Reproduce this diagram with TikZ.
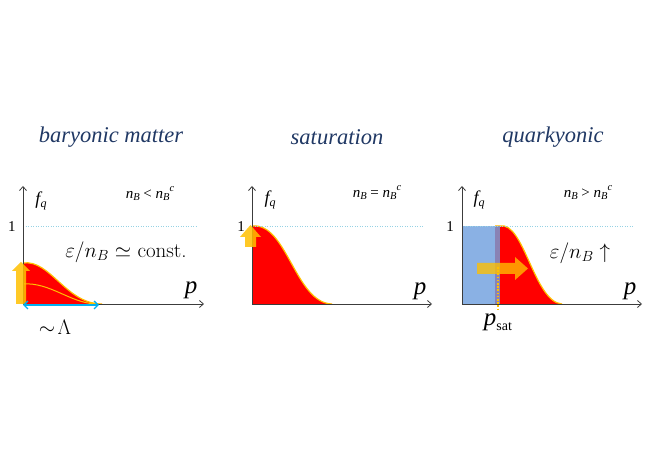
\RequirePackage{fix-cm}
\documentclass[tikz,border=0pt]{standalone}
\usepackage{fontspec}
\newfontfamily\tnr{Liberation Serif}[ItalicFont={Liberation Serif Italic}]
\usetikzlibrary{arrows.meta}
\definecolor{navy}{RGB}{32,56,100}
\definecolor{amber}{RGB}{255,192,0}
\definecolor{fillred}{RGB}{255,0,0}
\definecolor{skyline}{RGB}{150,210,228}
\definecolor{cyanarr}{RGB}{0,176,240}
\definecolor{boxblue}{RGB}{112,160,222}
\definecolor{axisgray}{RGB}{60,60,60}
\tikzset{
  title/.style={font=\tnr\itshape\fontsize{22.5}{26}\selectfont, text=navy, inner sep=0pt},
  axis/.style={draw=axisgray, line width=0.8pt, -{Straight Barb[length=4pt,width=7pt]}},
  oneline/.style={draw=skyline, line width=0.5pt, dotted},
  dist/.style={fill=fillred},
  distedge/.style={draw=amber, line width=1.2pt},
  bigarrow/.style={fill=amber, fill opacity=0.85, draw=none},
  fqlabel/.style={font=\tnr\itshape\fontsize{18}{20}\selectfont, inner sep=0pt},
  plabel/.style={font=\tnr\itshape\fontsize{25}{27}\selectfont, inner sep=0pt},
  onelabel/.style={font=\tnr\fontsize{15}{17}\selectfont, inner sep=0pt},
  nlabel/.style={font=\tnr\itshape\fontsize{15}{17}\selectfont, inner sep=0pt},
  cmlabel/.style={font=\fontsize{21}{24}\selectfont, inner sep=0pt},
}
\newcommand{\fqtext}{f\raisebox{-0.35ex}{\fontsize{12}{14}\selectfont q}}
\newcommand{\nbtext}{n\raisebox{-0.4ex}{\fontsize{10.5}{12}\selectfont B}}
\newcommand{\nbctext}{n\raisebox{-0.4ex}{\fontsize{10.5}{12}\selectfont B}\raisebox{0.9ex}{\fontsize{10.5}{12}\selectfont c}}
\begin{document}
\begin{tikzpicture}[x=1pt,y=-1pt]
\useasboundingbox (0,0) rectangle (654,462);

% ---------- titles ----------
\node[title] (t1) at (111,137) {baryonic matter};
\node[title] (t2) at (337,137) {saturation};
\node[title] (t3) at (553,137) {quarkyonic};

% ================= panel 1 =================
\coordinate (o1) at (23,304);
\coordinate (y1) at (23,186);
\coordinate (x1) at (204,304);
\fill[dist] (23,304) -- (23,263) .. controls (50,259) and (66,304) .. (102,304) -- cycle;
\draw[distedge] (23,263) .. controls (50,259) and (66,304) .. (102,304);
\draw[draw=amber, line width=1pt] (23,284) .. controls (50,282) and (70,303) .. (96,304);
\draw[oneline] (23,226) -- (196,226);
\draw[axis] (o1) -- (y1);
\draw[axis] (o1) -- (x1);
\fill[bigarrow] (16,304) -- (16,271) -- (12,271) -- (21,262) -- (30,271) -- (26,271) -- (26,304) -- cycle;
\coordinate (la) at (23,305);
\coordinate (lb) at (99,305);
\draw[cyanarr, line width=1.4pt, {Straight Barb[length=4pt,width=8pt]}-{Straight Barb[length=4pt,width=8pt]}] (la) -- (lb);
\node[fqlabel] (fq1) at (41,201) {\fqtext};
\node[onelabel] (one1) at (12,227) {1};
\node[nlabel] (nb1) at (150,194) {\nbtext\ {\upshape<} \nbctext};
\node[cmlabel] (e1) at (126,252) {$\varepsilon/n_B\simeq$ const.};
\node[plabel] (p1) at (191,290) {p};
\node[cmlabel] (lam) at (55,327) {$\sim\!\Lambda$};

% ================= panel 2 =================
\coordinate (o2) at (252,304);
\coordinate (y2) at (252,186);
\coordinate (x2) at (432,304);
\fill[dist] (252,304) -- (252,226) .. controls (287,222) and (295,303) .. (332,304) -- cycle;
\draw[distedge] (252,226) .. controls (287,222) and (295,303) .. (332,304);
\draw[oneline] (252,226) -- (424,226);
\draw[axis] (o2) -- (y2);
\draw[axis] (o2) -- (x2);
\fill[bigarrow] (245,247) -- (245,237) -- (240,237) -- (250.5,225) -- (261,237) -- (256,237) -- (256,247) -- cycle;
\node[fqlabel] (fq2) at (270,200) {\fqtext};
\node[onelabel] (one2) at (241,227) {1};
\node[nlabel] (nb2) at (377,193) {\nbtext\ {\upshape=} \nbctext};
\node[plabel] (p2) at (420,291) {p};

% ================= panel 3 =================
\coordinate (o3) at (462,304);
\coordinate (y3) at (462,186);
\coordinate (x3) at (642,304);
\fill[dist] (495,304) -- (495,226) -- (500,226) .. controls (524,221) and (534,302) .. (562,304) -- cycle;
\draw[distedge] (495,226) -- (500,226) .. controls (524,221) and (534,302) .. (562,304);
\fill[boxblue, fill opacity=0.82] (462,226) rectangle (500,304);
\draw[oneline] (462,226) -- (634,226);
\draw[axis] (o3) -- (y3);
\draw[axis] (o3) -- (x3);
\coordinate (ps1) at (498,267);
\coordinate (ps2) at (498,311);
\draw[amber, line width=1.6pt, dash pattern=on 1.6pt off 1.6pt] (ps1) -- (ps2);
\fill[bigarrow, fill opacity=0.78] (477,263) -- (515,263) -- (515,257) -- (528,268.5) -- (515,280) -- (515,274) -- (477,274) -- cycle;
\node[fqlabel] (fq3) at (479,200) {\fqtext};
\node[onelabel] (one3) at (450,227) {1};
\node[nlabel] (nb3) at (588,193) {\nbtext\ {\upshape>} \nbctext};
\node[cmlabel] (e3) at (580,253) {$\varepsilon/n_B\uparrow$};
\node[plabel] (p3) at (630,291) {p};
\node[font=\tnr\fontsize{25}{27}\selectfont, inner sep=0pt] (psat) at (498,322) {\textit{p}\raisebox{-0.45ex}{\fontsize{14}{16}\selectfont sat}};
\end{tikzpicture}
\end{document}
